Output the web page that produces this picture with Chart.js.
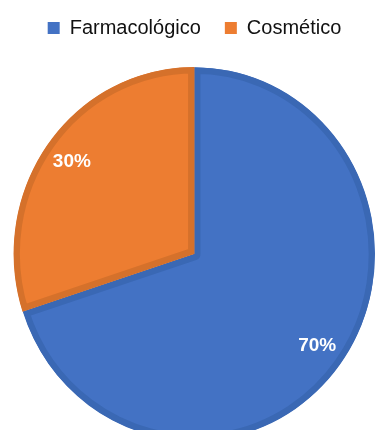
<!DOCTYPE html>
<html>
<head>
<meta charset="utf-8">
<script src="https://cdn.jsdelivr.net/npm/chart.js@4/dist/chart.umd.min.js"></script>
<style>
  html, body { margin: 0; padding: 0; background: #fff; overflow: hidden; }
  #wrap { width: 376px; height: 430px; position: relative; overflow: hidden; }
</style>
</head>
<body>
<div id="wrap"><canvas id="c" width="376" height="460"></canvas></div>
<script>
const categories = ['Farmacológico', 'Cosmético'];
const values = [70, 30];
const valueLabels = ['70%', '30%'];

const fillColors = ['#4372C4', '#ED7D31'];
const borderColors = ['#3A68B4', '#D5712B'];

// slight vertical stretch of the pie, as in the reference picture
const STRETCH_Y = 1.035;

const pieStretch = {
  id: 'pieStretch',
  beforeDatasetsDraw(chart) {
    const arc = chart.getDatasetMeta(0).data[0];
    const ctx = chart.ctx;
    ctx.save();
    ctx.translate(0, arc.y);
    ctx.scale(1, STRETCH_Y);
    ctx.translate(0, -arc.y);
  },
  afterDatasetsDraw(chart) {
    const ctx = chart.ctx;
    ctx.restore();
    const meta = chart.getDatasetMeta(0);
    ctx.save();
    ctx.font = 'bold 19px "Liberation Sans", Arial, sans-serif';
    ctx.fillStyle = '#ffffff';
    ctx.textAlign = 'center';
    ctx.textBaseline = 'middle';
    meta.data.forEach((a, i) => {
      const p = a.getProps(['x', 'y', 'startAngle', 'endAngle', 'outerRadius'], true);
      const mid = (p.startAngle + p.endAngle) / 2;
      const r = p.outerRadius * 0.84;
      const cy = meta.data[0].y;
      const x = p.x + Math.cos(mid) * r;
      const y = cy + (p.y + Math.sin(mid) * r - cy) * STRETCH_Y;
      ctx.fillText(valueLabels[i], x, y);
    });
    ctx.restore();
  }
};

new Chart(document.getElementById('c'), {
  type: 'pie',
  data: {
    labels: categories,
    datasets: [{
      data: values,
      backgroundColor: fillColors,
      borderColor: borderColors,
      borderWidth: 6,
      borderAlign: 'inner',
      offset: [0, 2],
      clip: false
    }]
  },
  options: {
    responsive: false,
    animation: false,
    layout: { padding: { top: -6, bottom: 0, left: 13, right: 0 } },
    plugins: {
      tooltip: { enabled: false },
      legend: {
        position: 'top',
        labels: {
          boxWidth: 12,
          boxHeight: 12,
          padding: 24,
          color: '#111',
          font: { family: '"Liberation Sans", Arial, sans-serif', size: 20 },
          generateLabels(chart) {
            const items = Chart.controllers.pie.overrides.plugins.legend.labels.generateLabels(chart);
            items.forEach((it, i) => { it.lineWidth = 0; it.fillStyle = fillColors[i]; });
            return items;
          }
        }
      }
    }
  },
  plugins: [pieStretch]
});
</script>
</body>
</html>
